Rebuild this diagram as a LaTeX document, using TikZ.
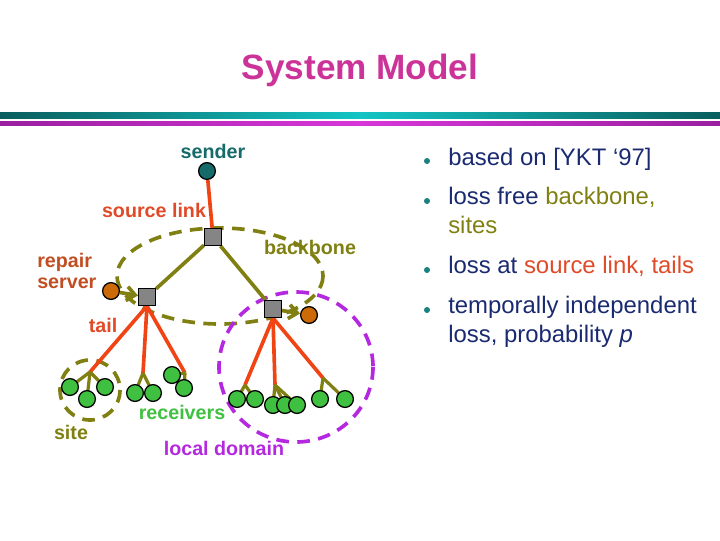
\documentclass[tikz,border=0pt]{standalone}
\usepackage{fontspec}
\setmainfont{Liberation Sans}
\usetikzlibrary{arrows.meta}
\definecolor{titlemag}{HTML}{CC3399}
\definecolor{barteal}{HTML}{0A5E5E}
\definecolor{barteallight}{HTML}{14C4C4}
\definecolor{barmag}{HTML}{9A1FA0}
\definecolor{barmaglight}{HTML}{D836D8}
\definecolor{sendteal}{HTML}{176A6A}
\definecolor{tailred}{HTML}{F04414}
\definecolor{labelred}{HTML}{E04A28}
\definecolor{bboneolive}{HTML}{808012}
\definecolor{routergray}{HTML}{858585}
\definecolor{repairorange}{HTML}{CC6A08}
\definecolor{repairtext}{HTML}{C04E22}
\definecolor{rcvgreen}{HTML}{40C040}
\definecolor{domainpurple}{HTML}{B428E0}
\definecolor{bulletnavy}{HTML}{1A2A70}
\definecolor{bulletdot}{HTML}{1A8080}
\tikzset{
  router/.style={draw=black, line width=0.9pt, fill=routergray, minimum size=0.42cm, inner sep=0pt},
  dot/.style={circle, draw=black, line width=0.9pt, minimum size=0.42cm, inner sep=0pt},
  rcv/.style={dot, fill=rcvgreen},
  tailline/.style={tailred, line width=2.6pt},
  bboneline/.style={bboneolive, line width=2.6pt},
  forkline/.style={bboneolive, line width=2.3pt},
  dashring/.style={line width=2.6pt, dash pattern=on 9pt off 6pt},
  lbl/.style={font=\fontsize{14}{16}\selectfont\bfseries, inner sep=0pt},
  btxt/.style={font=\fontsize{17}{20}\selectfont, text=bulletnavy, inner sep=0pt, anchor=base west}
}
\begin{document}
\begin{tikzpicture}[x=0.025cm, y=-0.025cm]
  \useasboundingbox (0,0) rectangle (720,540);
  %TITLE:
  \node[font=\fontsize{25}{30}\selectfont\bfseries, text=titlemag, inner sep=0pt] (title) at (360,70) {System Model};
  \shade[left color=barteal, right color=barteal, middle color=barteallight] (0,112) rectangle (720,118.5);
  \shade[left color=barmag, right color=barmag, middle color=barmaglight] (0,121) rectangle (720,125.5);
  %DASHED REGIONS:
  \draw[dashring, bboneolive] (220,276) ellipse (103 and 48);
  \draw[dashring, bboneolive] (90,390) ellipse (30 and 30);
  \draw[dashring, domainpurple] (296,367) ellipse (77 and 75);
  %NODES ----------------------------
  \node[dot, fill=sendteal] (sender) at (207,171) {};
  \node[router] (sqT) at (213,237) {};
  \node[router] (sqL) at (147,297) {};
  \node[router] (sqR) at (273,309) {};
  \node[dot, fill=repairorange] (repL) at (111,291) {};
  \node[dot, fill=repairorange] (repR) at (309,315) {};
  %fork points
  \coordinate (fA) at (90,372);
  \coordinate (fB) at (143,373);
  \coordinate (fC) at (185,373);
  \coordinate (fD) at (245,385);
  \coordinate (fE) at (275,385);
  \coordinate (fF) at (323,378);
  %LINKS ----------------------------
  \draw[tailline] (sender) -- (sqT);
  \draw[bboneline] (sqT) -- (sqL);
  \draw[bboneline] (sqT) -- (sqR);
  \draw[bboneline, -{Straight Barb[length=6pt, width=10pt]}] (repL) -- (sqL);
  \draw[bboneline, -{Straight Barb[length=6pt, width=10pt]}] (sqR) -- (repR);
  \foreach \f in {fA,fB,fC}
    \draw[tailline] (sqL.south) -- (\f);
  \foreach \f in {fD,fE,fF}
    \draw[tailline] (sqR.south) -- (\f);
  %RECEIVERS ------------------------
  \foreach \n/\x/\y/\f in {rA1/70/387/fA, rA2/87/399/fA, rA3/105/387/fA,
                            rB1/135/393/fB, rB2/153/393/fB,
                            rC1/172/375/fC, rC2/184/388/fC,
                            rD1/237/399/fD, rD2/255/399/fD,
                            rE1/273/405/fE, rE2/285/405/fE, rE3/297/405/fE,
                            rF1/320/399/fF, rF2/345/399/fF}
  {
    \draw[forkline] (\f) -- (\x,\y);
  }
  \foreach \n/\x/\y in {rA1/70/387, rA2/87/399, rA3/105/387,
                        rB1/135/393, rB2/153/393,
                        rC1/172/375, rC2/184/388,
                        rD1/237/399, rD2/255/399,
                        rE1/273/405, rE2/285/405, rE3/297/405,
                        rF1/320/399, rF2/345/399}
    \node[rcv] (\n) at (\x,\y) {};
  \node[router] at (sqT) {};
  \node[router] at (sqL) {};
  \node[router] at (sqR) {};
  %LABELS ---------------------------
  \node[lbl, text=sendteal] (lsender) at (213,151) {sender};
  \node[lbl, text=labelred] (lsource) at (154,210) {source link};
  \node[lbl, text=bboneolive] (lbbone) at (310,247) {backbone};
  \node[lbl, text=repairtext, align=left, anchor=west] (lrepair) at (37,271) {repair\\[-1pt]server};
  \node[lbl, text=labelred] (ltail) at (103,325) {tail};
  \node[lbl, text=bboneolive] (lsite) at (71,432) {site};
  \node[lbl, text=rcvgreen] (lrcv) at (182,412) {receivers};
  \node[lbl, text=domainpurple] (ldomain) at (224,448) {local domain};
  %BULLETS --------------------------
  \foreach \y in {161,201,270,310}
    \fill[bulletdot] (427,\y) circle (3);
  \node[btxt] (b1) at (448,165) {based on [YKT ‘97]};
  \node[btxt] (b2) at (448,204) {loss free \textcolor{bboneolive}{backbone,}};
  \node[btxt] (b2b) at (448,233) {\textcolor{bboneolive}{sites}};
  \node[btxt] (b3) at (448,273) {loss at \textcolor{labelred}{source link, tails}};
  \node[btxt] (b4) at (448,313) {temporally independent};
  \node[btxt] (b4b) at (448,342) {loss, probability \textit{p}};
\end{tikzpicture}
\end{document}
